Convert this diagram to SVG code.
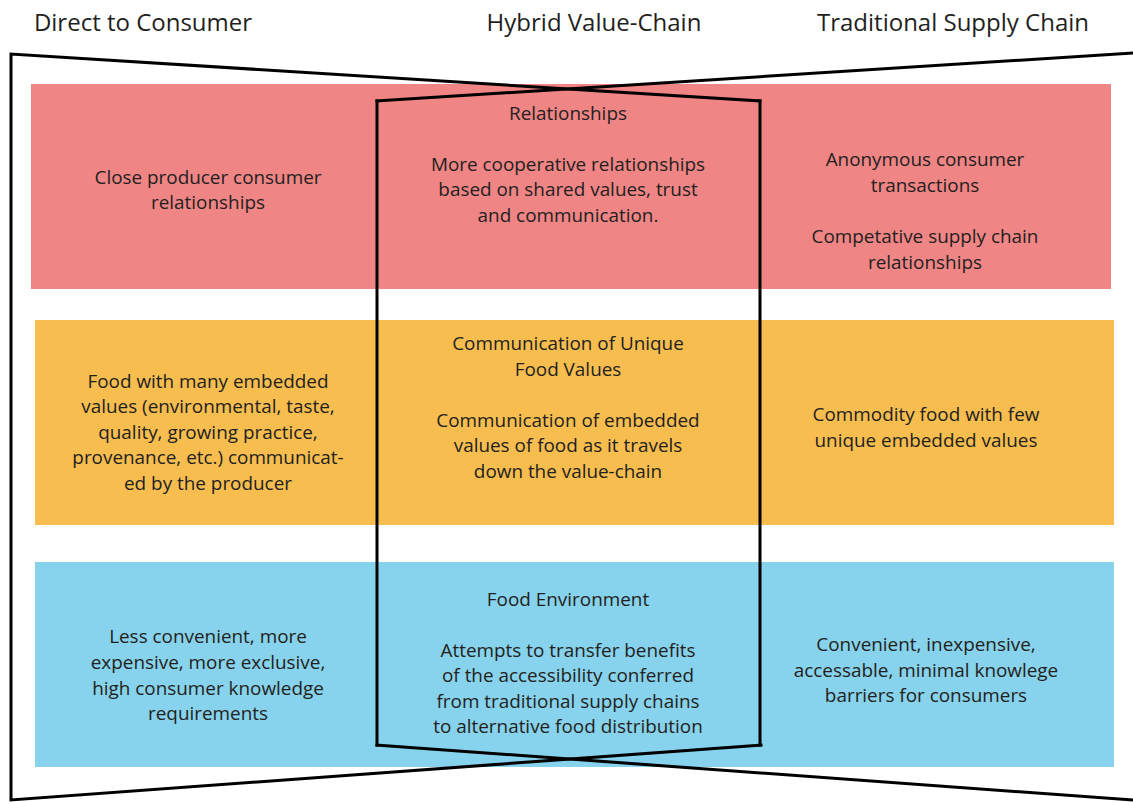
<svg xmlns="http://www.w3.org/2000/svg" width="1133" height="802" viewBox="0 0 1133 802">
  <style>
    .hdr { font-family: "Open Sans", "Liberation Sans", sans-serif; font-size: 24px; fill: #231f20; text-anchor: middle; }
    .txt { font-family: "Open Sans", "Liberation Sans", sans-serif; font-size: 18.9px; fill: #231f20; text-anchor: middle; }
    .band-red { fill: #f08585; }
    .band-orange { fill: #f7bd4f; }
    .band-blue { fill: #87d2ec; }
    .frame { fill: none; stroke: #000; stroke-width: 3; stroke-linejoin: miter; stroke-linecap: square; }
  </style>
  <rect width="1133" height="802" fill="#fff"/>

  <!-- column headings -->
  <g id="headers">
    <text class="hdr" x="143" y="31">Direct to Consumer</text>
    <text class="hdr" x="594" y="31">Hybrid Value-Chain</text>
    <text class="hdr" x="953" y="31">Traditional Supply Chain</text>
  </g>

  <!-- coloured rows -->
  <g id="bands">
    <rect class="band-red" x="31" y="84" width="1080" height="205"/>
    <rect class="band-orange" x="35" y="320" width="1079" height="205"/>
    <rect class="band-blue" x="35" y="562" width="1079" height="205"/>
  </g>

  <!-- outline frame: outer funnel lines crossing into the central chain -->
  <g id="connectors">
    <polyline class="frame" points="760,101 11,54 11,800 761,745"/>
    <line class="frame" x1="1133" y1="53" x2="377" y2="101"/>
    <line class="frame" x1="1133" y1="800" x2="377" y2="745"/>
    <line class="frame" x1="377" y1="101" x2="377" y2="745"/>
    <line class="frame" x1="760" y1="101" x2="760" y2="745"/>
  </g>

  <!-- Relationships row -->
  <g id="rel-direct">
    <text class="txt" x="208" y="184">Close producer consumer</text>
    <text class="txt" x="208" y="209">relationships</text>
  </g>
  <g id="rel-hybrid">
    <text class="txt" x="568" y="120">Relationships</text>
    <text class="txt" x="568" y="171">More cooperative relationships</text>
    <text class="txt" x="568" y="196">based on shared values, trust</text>
    <text class="txt" x="568" y="222">and communication.</text>
  </g>
  <g id="rel-traditional">
    <text class="txt" x="925" y="166">Anonymous consumer</text>
    <text class="txt" x="925" y="192">transactions</text>
    <text class="txt" x="925" y="243">Competative supply chain</text>
    <text class="txt" x="925" y="269">relationships</text>
  </g>

  <!-- Food values row -->
  <g id="val-direct">
    <text class="txt" x="208" y="388">Food with many embedded</text>
    <text class="txt" x="208" y="413">values (environmental, taste,</text>
    <text class="txt" x="208" y="439">quality, growing practice,</text>
    <text class="txt" x="208" y="464">provenance, etc.) communicat-</text>
    <text class="txt" x="208" y="490">ed by the producer</text>
  </g>
  <g id="val-hybrid">
    <text class="txt" x="568" y="350">Communication of Unique</text>
    <text class="txt" x="568" y="376">Food Values</text>
    <text class="txt" x="568" y="427">Communication of embedded</text>
    <text class="txt" x="568" y="452">values of food as it travels</text>
    <text class="txt" x="568" y="478">down the value-chain</text>
  </g>
  <g id="val-traditional">
    <text class="txt" x="926" y="421">Commodity food with few</text>
    <text class="txt" x="926" y="447">unique embedded values</text>
  </g>

  <!-- Food environment row -->
  <g id="env-direct">
    <text class="txt" x="208" y="643">Less convenient, more</text>
    <text class="txt" x="208" y="669">expensive, more exclusive,</text>
    <text class="txt" x="208" y="695">high consumer knowledge</text>
    <text class="txt" x="208" y="720">requirements</text>
  </g>
  <g id="env-hybrid">
    <text class="txt" x="568" y="606">Food Environment</text>
    <text class="txt" x="568" y="657">Attempts to transfer benefits</text>
    <text class="txt" x="568" y="682">of the accessibility conferred</text>
    <text class="txt" x="568" y="708">from traditional supply chains</text>
    <text class="txt" x="568" y="733">to alternative food distribution</text>
  </g>
  <g id="env-traditional">
    <text class="txt" x="926" y="651">Convenient, inexpensive,</text>
    <text class="txt" x="926" y="677">accessable, minimal knowlege</text>
    <text class="txt" x="926" y="702">barriers for consumers</text>
  </g>
</svg>
